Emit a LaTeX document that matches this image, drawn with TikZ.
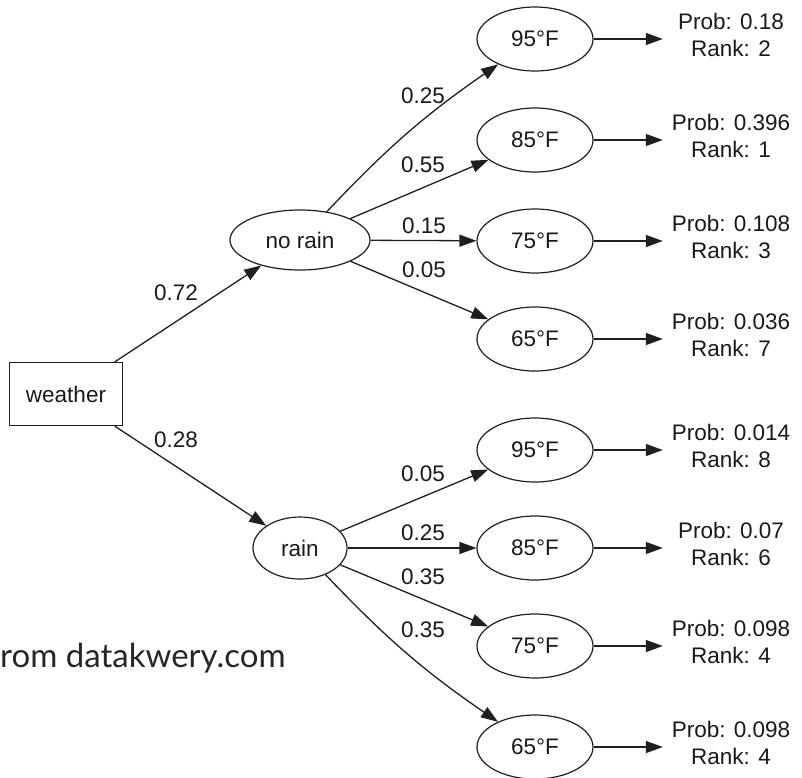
\documentclass[tikz,border=0pt]{standalone}
\usepackage{fontspec}
\setmainfont{Liberation Sans}
\newfontfamily\markfont{Lato}
\usetikzlibrary{shapes.geometric,arrows.meta}
\begin{document}
\begin{tikzpicture}[x=1pt,y=-1pt,
  every node/.style={font=\fontsize{22.5}{26.5}\selectfont, text=black!90},
  link/.style={draw=black!88, line width=1.3pt, -{Triangle[length=17pt,width=12pt]}},
  root/.style={draw=black!88, line width=1.2pt, rectangle, minimum width=113pt, minimum height=63pt, inner sep=0pt},
  chance/.style={draw=black!88, line width=1.2pt, ellipse, inner sep=0pt},
  temp/.style={chance, minimum width=116pt, minimum height=64pt},
  result/.style={align=center, minimum width=136pt, inner sep=0pt},
  weight/.style={inner sep=1pt}
]
\useasboundingbox (0,0) rectangle (802,777);

% root and first-level outcomes
\node[root] (w) at (66,394) {weather};
\node[chance, minimum width=140pt, minimum height=60pt] (nr) at (300,240) {no rain};
\node[chance, minimum width=94pt, minimum height=62pt] (r) at (300,548) {rain};

% temperature outcomes with their joint probabilities
\foreach \n/\y/\t/\p/\k in {
  a95/39/95/0.18/2, a85/140/85/0.396/1, a75/241/75/0.108/3, a65/339/65/0.036/7,
  b95/450/95/0.014/8, b85/548/85/0.07/6, b75/646/75/0.098/4, b65/747/65/0.098/4}{
  \node[temp] (\n) at (535,\y) {\t°F};
  \node[result] (p\n) at (731,\y-4) {Prob: \p\\Rank: \k};
  \draw[link] (\n.east) -- (\n.east -| p\n.west);
}

% branches
\draw[link] (w) -- (nr);
\draw[link] (w) -- (r);
\draw[link] (nr) to[bend left=6] (a95);
\draw[link] (nr) -- (a85);
\draw[link] (nr) -- (a75);
\draw[link] (nr) -- (a65);
\draw[link] (r) -- (b95);
\draw[link] (r) -- (b85);
\draw[link] (r) -- (b75);
\draw[link] (r) to[bend right=6] (b65);

% branch weights
\node[weight] (l1) at (176,293) {0.72};
\node[weight] (l2) at (176,440) {0.28};
\node[weight] (l3) at (423,96) {0.25};
\node[weight] (l4) at (423,165) {0.55};
\node[weight] (l5) at (424,226) {0.15};
\node[weight] (l6) at (424,270) {0.05};
\node[weight] (l7) at (423,474) {0.05};
\node[weight] (l8) at (423,533) {0.25};
\node[weight] (l9) at (423,577) {0.35};
\node[weight] (l10) at (423,630) {0.35};

% source line
\node[anchor=base west, inner sep=0pt, font=\markfont\fontsize{33}{33}\selectfont, text=black!85] (src) at (0,667) {rom datakwery.com};
\end{tikzpicture}
\end{document}
